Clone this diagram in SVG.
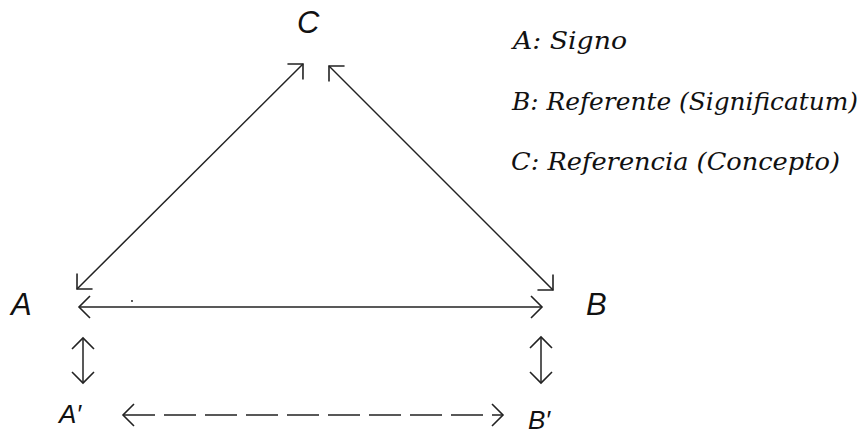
<svg xmlns="http://www.w3.org/2000/svg" width="861" height="434" viewBox="0 0 861 434">
<style>
.lbl{font-family:"Liberation Sans",Arial,sans-serif;font-style:italic;fill:#111}
.leg{font-family:"DejaVu Serif","Liberation Serif",serif;font-style:italic;font-size:24px;fill:#111}
.ln{stroke:#222;stroke-width:1.5;fill:none;marker-start:url(#ah);marker-end:url(#ah)}
.dash{stroke-dasharray:32 9}
.head{stroke:#222;stroke-width:1.6;fill:none}
</style>
<defs>
<marker id="ah" markerUnits="userSpaceOnUse" markerWidth="26" markerHeight="26" viewBox="-13 -13 26 26" refX="0" refY="0" orient="auto-start-reverse">
<path class="head" d="M-11,-11 L0,0 L-11,11"/>
</marker>
</defs>
<rect width="861" height="434" fill="#fff"/>
<g id="connectors">
<line class="ln" x1="77" y1="289" x2="303" y2="64"/>
<line class="ln" x1="553" y1="290" x2="329" y2="66"/>
<line class="ln" x1="79" y1="307" x2="542" y2="307"/>
<line class="ln" x1="83" y1="338" x2="83" y2="383"/>
<line class="ln" x1="541" y1="337" x2="541" y2="383"/>
<line class="ln dash" x1="123" y1="415" x2="503" y2="415"/>
</g>
<circle cx="132" cy="301" r="0.9" fill="#111"/>
<g id="C"><text class="lbl" x="297" y="33" font-size="31">C</text></g>
<g id="A"><text class="lbl" x="11" y="315" font-size="31">A</text></g>
<g id="B"><text class="lbl" x="586" y="315" font-size="31">B</text></g>
<g id="A2"><text class="lbl" x="59" y="423" font-size="26">A′</text></g>
<g id="B2"><text class="lbl" x="528" y="429" font-size="26">B′</text></g>
<g id="legend">
<text class="leg" x="513" y="49" textLength="114" lengthAdjust="spacingAndGlyphs">A: Signo</text>
<text class="leg" x="512" y="110" textLength="346" lengthAdjust="spacingAndGlyphs">B: Referente (Significatum)</text>
<text class="leg" x="511" y="170" textLength="329" lengthAdjust="spacingAndGlyphs">C: Referencia (Concepto)</text>
</g>
</svg>
